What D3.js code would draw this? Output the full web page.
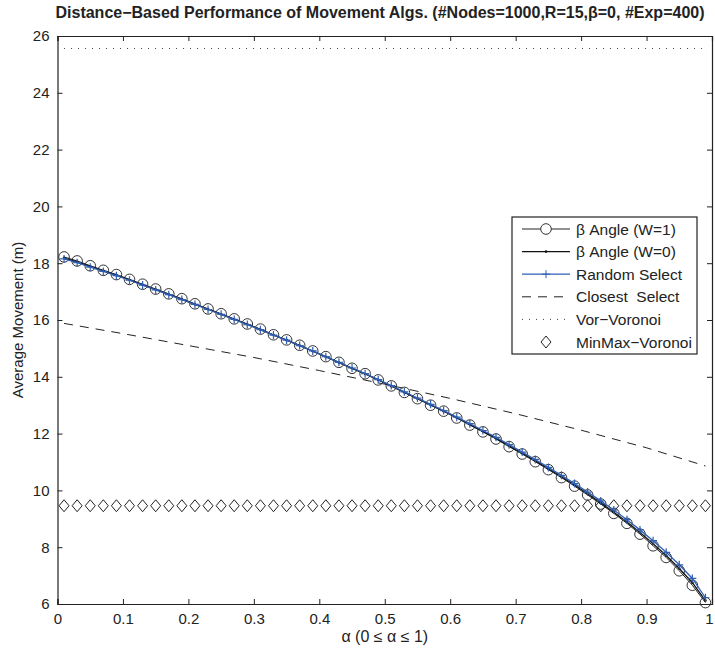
<!DOCTYPE html>
<html lang="en">
<head>
<meta charset="UTF-8">
<title>Distance-Based Performance</title>
<style>
  body { margin: 0; background: #fff; }
  svg text { font-family: Arial, "Liberation Sans", Helvetica, sans-serif; fill: #222; }
  .axis path, .axis line { stroke: #222; }
</style>
</head>
<body>
<div id="chart"></div>
<script src="https://d3js.org/d3.v7.min.js"></script>
<script>
// alpha sample points used by every series with markers
var alphas = [0.01,0.03,0.05,0.07,0.09,0.11,0.13,0.15,0.17,0.19,
              0.21,0.23,0.25,0.27,0.29,0.31,0.33,0.35,0.37,0.39,
              0.41,0.43,0.45,0.47,0.49,0.51,0.53,0.55,0.57,0.59,
              0.61,0.63,0.65,0.67,0.69,0.71,0.73,0.75,0.77,0.79,
              0.81,0.83,0.85,0.87,0.89,0.91,0.93,0.95,0.97,0.99];

var angleW1 = [18.22,18.08,17.91,17.75,17.60,17.43,17.26,17.09,16.92,16.75,
               16.57,16.39,16.22,16.04,15.86,15.68,15.48,15.30,15.11,14.91,
               14.71,14.51,14.30,14.11,13.89,13.68,13.45,13.23,13.00,12.79,
               12.55,12.30,12.06,11.81,11.54,11.28,11.01,10.73,10.45,10.15,
               9.84,9.52,9.19,8.84,8.46,8.05,7.64,7.17,6.66,6.05];

var angleW0 = [18.19,18.05,17.89,17.73,17.58,17.41,17.24,17.07,16.90,16.73,
               16.55,16.38,16.20,16.02,15.85,15.66,15.47,15.29,15.10,14.90,
               14.70,14.50,14.30,14.10,13.89,13.67,13.45,13.23,13.01,12.79,
               12.56,12.32,12.08,11.83,11.57,11.31,11.04,10.76,10.48,10.19,
               9.88,9.56,9.23,8.89,8.52,8.12,7.71,7.25,6.75,6.12];

var randomSel = [18.15,18.02,17.86,17.71,17.56,17.40,17.23,17.06,16.89,16.72,
                 16.55,16.37,16.20,16.02,15.84,15.66,15.47,15.29,15.10,14.91,
                 14.71,14.51,14.31,14.11,13.90,13.69,13.47,13.25,13.03,12.81,
                 12.58,12.35,12.11,11.87,11.61,11.35,11.09,10.81,10.53,10.24,
                 9.94,9.63,9.31,8.97,8.61,8.23,7.82,7.38,6.90,6.22];

var closestX   = [0.01,0.1,0.2,0.3,0.4,0.5,0.6,0.7,0.8,0.9,0.99];
var closestSel = [15.88,15.52,15.10,14.68,14.22,13.74,13.24,12.70,12.12,11.50,10.86];

var vorX   = [0.01,0.99];
var vorVor = [25.56,25.56];

var minmaxVor = [9.46,9.46,9.46,9.46,9.46,9.46,9.46,9.46,9.46,9.46,
                 9.46,9.46,9.46,9.46,9.46,9.46,9.46,9.46,9.46,9.46,
                 9.46,9.46,9.46,9.46,9.46,9.46,9.46,9.46,9.46,9.46,
                 9.46,9.46,9.46,9.46,9.46,9.46,9.46,9.46,9.46,9.46,
                 9.46,9.46,9.46,9.46,9.46,9.46,9.46,9.46,9.46,9.46];

var xTicks = [0,0.1,0.2,0.3,0.4,0.5,0.6,0.7,0.8,0.9,1];
var yTicks = [6,8,10,12,14,16,18,20,22,24,26];
var legendNames = ["\u03b2 Angle (W=1)", "\u03b2 Angle (W=0)", "Random Select",
                   "Closest  Select", "Vor\u2212Voronoi", "MinMax\u2212Voronoi"];

var W = 715, H = 649;
var margin = {top: 36, right: 3, bottom: 45, left: 57.5};
var width = W - margin.left - margin.right;
var height = H - margin.top - margin.bottom;
var blue = "#2f5fb3";

var svg = d3.select("#chart").append("svg").attr("width", W).attr("height", H);
var g = svg.append("g").attr("transform", "translate(" + margin.left + "," + margin.top + ")");

var x = d3.scaleLinear().domain([0, 1]).range([0, width]);
var y = d3.scaleLinear().domain([6, 26]).range([height, 0]);

// axes, MATLAB style: ticks inward on all four sides
g.append("g").attr("class", "axis")
  .attr("transform", "translate(0," + height + ")")
  .call(d3.axisBottom(x).tickValues(xTicks).tickSize(-5).tickPadding(9).tickFormat(d3.format("")))
  .call(function(s) {
    s.selectAll("text").style("font-size", "15px");
    s.selectAll("text").filter(function(d) { return d === 1; }).attr("dx", -3);
  });
g.append("g").attr("class", "axis")
  .call(d3.axisTop(x).tickValues(xTicks).tickSize(-5).tickFormat(""));
g.append("g").attr("class", "axis")
  .call(d3.axisLeft(y).tickValues(yTicks).tickSize(-5).tickPadding(8))
  .call(function(s) { s.selectAll("text").style("font-size", "15px"); });
g.append("g").attr("class", "axis")
  .attr("transform", "translate(" + width + ",0)")
  .call(d3.axisRight(y).tickValues(yTicks).tickSize(-5).tickFormat(""));
g.selectAll(".axis path").attr("stroke-width", 1.2);

var line = d3.line().x(function(d) { return x(d[0]); }).y(function(d) { return y(d[1]); });
function pairs(xs, ys) { return xs.map(function(v, i) { return [v, ys[i]]; }); }

// Vor-Voronoi dotted
g.append("path").attr("d", line(pairs(vorX, vorVor)))
  .attr("fill", "none").attr("stroke", "#444").attr("stroke-width", 1).attr("stroke-dasharray", "1,6");

// Closest Select dashed
g.append("path").attr("d", line(pairs(closestX, closestSel)))
  .attr("fill", "none").attr("stroke", "#222").attr("stroke-width", 1).attr("stroke-dasharray", "9,7");

// MinMax diamonds
var diamond = "M0,-6L5,0L0,6L-5,0Z";
g.selectAll(".dia").data(pairs(alphas, minmaxVor)).enter().append("path")
  .attr("transform", function(d) { return "translate(" + x(d[0]) + "," + y(d[1]) + ")"; })
  .attr("d", diamond).attr("fill", "none").attr("stroke", "#222").attr("stroke-width", 1);

// beta angle W=1 line with circles
g.append("path").attr("d", line(pairs(alphas, angleW1)))
  .attr("fill", "none").attr("stroke", "#222").attr("stroke-width", 1);
g.selectAll(".circ").data(pairs(alphas, angleW1)).enter().append("circle")
  .attr("cx", function(d) { return x(d[0]); }).attr("cy", function(d) { return y(d[1]); })
  .attr("r", 5.3).attr("fill", "none").attr("stroke", "#333").attr("stroke-width", 1);

// beta angle W=0 line with dots
g.append("path").attr("d", line(pairs(alphas, angleW0)))
  .attr("fill", "none").attr("stroke", "#111").attr("stroke-width", 1.3);
g.selectAll(".dot").data(pairs(alphas, angleW0)).enter().append("circle")
  .attr("cx", function(d) { return x(d[0]); }).attr("cy", function(d) { return y(d[1]); })
  .attr("r", 1.3).attr("fill", "#111");

// random select blue with plus markers
var plus = "M-4,0H4M0,-4V4";
g.append("path").attr("d", line(pairs(alphas, randomSel)))
  .attr("fill", "none").attr("stroke", blue).attr("stroke-width", 1.3);
g.selectAll(".plus").data(pairs(alphas, randomSel)).enter().append("path")
  .attr("transform", function(d) { return "translate(" + x(d[0]) + "," + y(d[1]) + ")"; })
  .attr("d", plus).attr("stroke", blue).attr("stroke-width", 1.2);

// title and axis labels
svg.append("text").attr("x", 380).attr("y", 18)
  .attr("text-anchor", "middle").style("font-size", "16px").style("font-weight", "bold")
  .text("Distance\u2212Based Performance of Movement Algs. (#Nodes=1000,R=15,\u03b2=0, #Exp=400)");
svg.append("text").attr("x", margin.left + width / 2).attr("y", 642)
  .attr("text-anchor", "middle").style("font-size", "16px")
  .text("\u03b1 (0 \u2264 \u03b1 \u2264 1)");
svg.append("text").attr("transform", "translate(23," + (margin.top + height / 2) + ") rotate(-90)")
  .attr("text-anchor", "middle").style("font-size", "15px")
  .text("Average Movement (m)");

// legend
var lg = svg.append("g").attr("transform", "translate(512,217)");
lg.append("rect").attr("width", 185).attr("height", 137)
  .attr("fill", "#fff").attr("stroke", "#222").attr("stroke-width", 1.2);
var rowH = 22.6, y0 = 12;
legendNames.forEach(function(name, i) {
  var cy = y0 + i * rowH;
  var row = lg.append("g").attr("transform", "translate(0," + cy + ")");
  if (i === 0) {
    row.append("line").attr("x1", 10).attr("x2", 58).attr("stroke", "#222");
    row.append("circle").attr("cx", 34).attr("r", 5.3).attr("fill", "#fff").attr("stroke", "#333");
  } else if (i === 1) {
    row.append("line").attr("x1", 10).attr("x2", 58).attr("stroke", "#111").attr("stroke-width", 1.3);
    row.append("circle").attr("cx", 34).attr("r", 1.3).attr("fill", "#111");
  } else if (i === 2) {
    row.append("line").attr("x1", 10).attr("x2", 58).attr("stroke", blue).attr("stroke-width", 1.3);
    row.append("path").attr("transform", "translate(34,0)").attr("d", plus).attr("stroke", blue);
  } else if (i === 3) {
    row.append("line").attr("x1", 10).attr("x2", 58).attr("stroke", "#222").attr("stroke-dasharray", "9,7");
  } else if (i === 4) {
    row.append("line").attr("x1", 10).attr("x2", 58).attr("stroke", "#444").attr("stroke-dasharray", "1,6");
  } else {
    row.append("path").attr("transform", "translate(34,0)").attr("d", diamond)
      .attr("fill", "none").attr("stroke", "#222");
  }
  row.append("text").attr("x", 64).attr("y", 5.5).style("font-size", "15.5px")
    .style("white-space", "pre").text(name);
});
</script>
</body>
</html>
